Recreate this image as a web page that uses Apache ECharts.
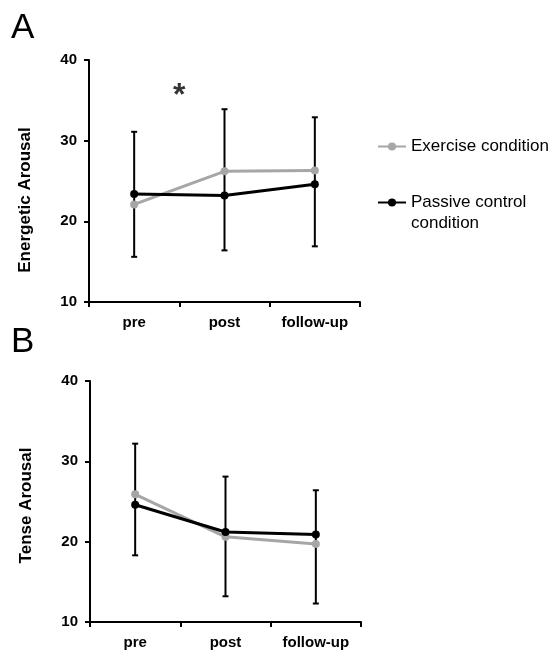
<!DOCTYPE html>
<html>
<head>
<meta charset="utf-8">
<script src="https://cdn.jsdelivr.net/npm/echarts@6/dist/echarts.min.js"></script>
<style>html,body{margin:0;padding:0;background:#fff}#c{width:552px;height:650px}</style>
</head>
<body>
<div id="c"></div>
<script>
const categories = ['pre', 'post', 'follow-up'];
const yTicks = [10, 20, 30, 40];
// Panel A: Energetic Arousal
const exerciseA = [22.1, 26.2, 26.3];
const passiveA = [23.4, 23.2, 24.6];
const errLowA = [15.6, 16.4, 16.9];
const errHighA = [31.1, 33.9, 32.9];
const starA = [1, 36.0];  // boundary between pre and post
// Panel B: Tense Arousal
const exerciseB = [25.9, 20.6, 19.7];
const passiveB = [24.6, 21.2, 20.9];
const errLowB = [18.3, 13.2, 12.3];
const errHighB = [32.2, 28.1, 26.4];

const FONT = 'Liberation Sans, Arial, sans-serif';
const GRAY = '#a6a6a6';

function errData(lo, hi) { return categories.map((c, i) => [i, lo[i], hi[i]]); }
function errRender(params, api) {
  const i = api.value(0);
  const p1 = api.coord([i, api.value(1)]);
  const p2 = api.coord([i, api.value(2)]);
  const w = 3;
  const st = { stroke: '#000', lineWidth: 2 };
  return { type: 'group', children: [
    { type: 'line', shape: { x1: p1[0], y1: p1[1], x2: p2[0], y2: p2[1] }, style: st },
    { type: 'line', shape: { x1: p1[0] - w, y1: p1[1], x2: p1[0] + w, y2: p1[1] }, style: st },
    { type: 'line', shape: { x1: p2[0] - w, y1: p2[1], x2: p2[0] + w, y2: p2[1] }, style: st }
  ]};
}

function xAxisCfg(gi) {
  return {
    type: 'category', gridIndex: gi, data: categories, boundaryGap: true,
    axisLine: { lineStyle: { color: '#000', width: 2 } },
    axisTick: { show: true, length: 5, lineStyle: { color: '#000', width: 2 } },
    axisLabel: { color: '#000', fontFamily: FONT, fontWeight: 'bold', fontSize: 15, margin: 13 },
    splitLine: { show: false }
  };
}
function yAxisCfg(gi, name, pad) {
  return {
    type: 'value', gridIndex: gi, min: yTicks[0], max: yTicks[yTicks.length - 1], interval: 10,
    name: name, nameLocation: 'middle', nameGap: 55, nameRotate: 90,
    nameTextStyle: { color: '#000', fontFamily: FONT, fontWeight: 'bold', fontSize: 17, padding: pad },
    axisLine: { show: true, lineStyle: { color: '#000', width: 2 } },
    axisTick: { show: true, length: 5, lineStyle: { color: '#000', width: 2 } },
    axisLabel: { color: '#000', fontFamily: FONT, fontWeight: 'bold', fontSize: 15, margin: 12 },
    splitLine: { show: false }
  };
}
function lineSeries(name, data, color, xi, yi, z) {
  return {
    type: 'line', name: name, data: data, xAxisIndex: xi, yAxisIndex: yi,
    symbol: 'circle', symbolSize: 8, z: z,
    itemStyle: { color: color }, lineStyle: { color: color, width: 3 },
    emphasis: { disabled: true }
  };
}
const legendBase = {
  left: 377, orient: 'vertical', itemWidth: 28, itemHeight: 10, padding: 0, selectedMode: false,
  textStyle: { fontFamily: FONT, fontSize: 17, color: '#000', lineHeight: 21 }
};

const chart = echarts.init(document.getElementById('c'), null, { renderer: 'canvas' });
chart.setOption({
  animation: false,
  backgroundColor: '#fff',
  title: [
    { text: 'A', left: 11, top: 11, padding: 0, textStyle: { fontFamily: FONT, fontWeight: 'normal', fontSize: 35, color: '#000' } },
    { text: 'B', left: 11, top: 325, padding: 0, textStyle: { fontFamily: FONT, fontWeight: 'normal', fontSize: 35, color: '#000' } }
  ],
  legend: [
    Object.assign({}, legendBase, { top: 136, data: ['Exercise condition'] }),
    Object.assign({}, legendBase, { top: 171, data: ['Passive control condition'],
      formatter: () => '\nPassive control\ncondition' })
  ],
  grid: [
    { left: 89, top: 60, width: 271, height: 242 },
    { left: 90, top: 381, width: 271, height: 242 }
  ],
  xAxis: [
    xAxisCfg(0), xAxisCfg(1),
    { type: 'value', gridIndex: 0, min: 0, max: 3, show: false }
  ],
  yAxis: [
    yAxisCfg(0, 'Energetic Arousal', [0, 38, 0, 0]),
    yAxisCfg(1, 'Tense Arousal', [0, 8, 0, 0])
  ],
  series: [
    { type: 'custom', name: 'errA', xAxisIndex: 0, yAxisIndex: 0, data: errData(errLowA, errHighA),
      renderItem: errRender, encode: { x: 0, y: [1, 2] }, z: 1, silent: true },
    lineSeries('Exercise condition', exerciseA, GRAY, 0, 0, 2),
    lineSeries('Passive control condition', passiveA, '#000', 0, 0, 3),
    { type: 'custom', name: 'errB', xAxisIndex: 1, yAxisIndex: 1, data: errData(errLowB, errHighB),
      renderItem: errRender, encode: { x: 0, y: [1, 2] }, z: 1, silent: true },
    lineSeries('Exercise condition', exerciseB, GRAY, 1, 1, 2),
    lineSeries('Passive control condition', passiveB, '#000', 1, 1, 3),
    { type: 'scatter', name: 'sig', xAxisIndex: 2, yAxisIndex: 0, data: [starA], symbolSize: 0, silent: true,
      label: { show: true, position: 'inside', formatter: '*', fontFamily: FONT, fontWeight: 'bold', fontSize: 32, color: '#000', offset: [0, 4] } }
  ]
});
</script>
</body>
</html>
